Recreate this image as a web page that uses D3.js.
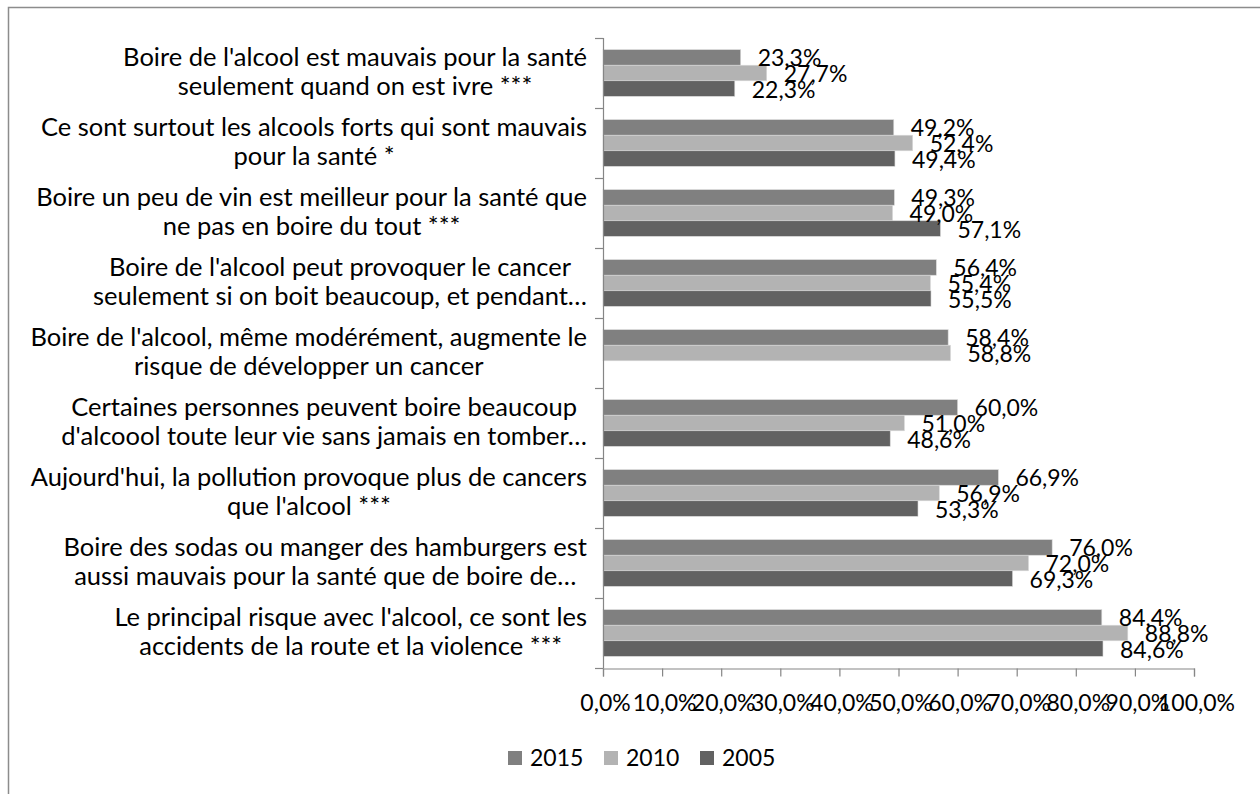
<!DOCTYPE html>
<html>
<head>
<meta charset="utf-8">
<script src="https://cdn.jsdelivr.net/npm/d3@7"></script>
<style>
  html, body { margin: 0; padding: 0; background: #fff; }
  svg { display: block; }
  text { font-family: Lato, "Open Sans", sans-serif; fill: #000; }
</style>
</head>
<body>
<svg id="chart" width="1260" height="794"></svg>
<script>
const categories = [
  "Boire de l'alcool est mauvais pour la santé\nseulement quand on est ivre ***",
  "Ce sont surtout les alcools forts qui sont mauvais\npour la santé *",
  "Boire un peu de vin est meilleur pour la santé que\nne pas en boire du tout ***",
  "Boire de l'alcool peut provoquer le cancer\nseulement si on boit beaucoup, et pendant…",
  "Boire de l'alcool, même modérément, augmente le\nrisque de développer un cancer",
  "Certaines personnes peuvent boire beaucoup\nd'alcoool toute leur vie sans jamais en tomber…",
  "Aujourd'hui, la pollution provoque plus de cancers\nque l'alcool ***",
  "Boire des sodas ou manger des hamburgers est\naussi mauvais pour la santé que de boire de…",
  "Le principal risque avec l'alcool, ce sont les\naccidents de la route et la violence ***"
];
const seriesNames = ["2015", "2010", "2005"];
const values2015 = [0.233, 0.492, 0.493, 0.564, 0.584, 0.600, 0.669, 0.760, 0.844];
const values2010 = [0.277, 0.524, 0.490, 0.554, 0.588, 0.510, 0.569, 0.720, 0.888];
const values2005 = [0.223, 0.494, 0.571, 0.555, null, 0.486, 0.533, 0.693, 0.846];
const xTicks = [0, 0.1, 0.2, 0.3, 0.4, 0.5, 0.6, 0.7, 0.8, 0.9, 1.0];
const seriesColors = ["#808080", "#b3b3b3", "#626262"];

const seriesValues = [values2015, values2010, values2005];

const svg = d3.select("#chart");
const fr = d3.formatLocale({decimal: ",", thousands: " ", grouping: [3], currency: ["", " €"]});
const pct = fr.format(".1%");

// outer chart border (only top/left visible)
svg.append("rect")
  .attr("x", 8.5).attr("y", 7.5).attr("width", 1300).attr("height", 900)
  .attr("fill", "none").attr("stroke", "#8c8c8c").attr("stroke-width", 1.5);

const x = d3.scaleLinear().domain([0, 1]).range([603, 1194]);
const y = d3.scaleBand().domain(categories).range([38, 668]);
const ySub = d3.scaleBand().domain(seriesNames).range([0, y.bandwidth()])
  .paddingInner(0).paddingOuter(0.75);

const FONT = 23;
const CAT_FONT = 25.5;

// bars
const rows = [];
categories.forEach((c, i) => {
  seriesNames.forEach((s, j) => {
    const v = seriesValues[j][i];
    if (v !== null && v !== undefined) rows.push({cat: c, s, j, v});
  });
});

svg.append("g").selectAll("rect").data(rows).join("rect")
  .attr("x", x(0))
  .attr("y", d => y(d.cat) + ySub(d.s))
  .attr("width", d => x(d.v) - x(0))
  .attr("height", ySub.bandwidth())
  .attr("fill", d => seriesColors[d.j])
  .attr("stroke", "#d9d9d9").attr("stroke-width", 0.6);

// data labels
svg.append("g").selectAll("text").data(rows).join("text")
  .attr("x", d => x(d.v) + 17)
  .attr("y", d => y(d.cat) + ySub(d.s) + ySub.bandwidth() / 2 + 9)
  .attr("font-size", FONT)
  .text(d => pct(d.v));

// y axis
const yAxisG = svg.append("g").attr("transform", `translate(${x(0)},0)`);
yAxisG.append("line")
  .attr("x1", 0.5).attr("x2", 0.5).attr("y1", y.range()[0]).attr("y2", y.range()[1])
  .attr("stroke", "#868686").attr("stroke-width", 1.2);
const boundaries = categories.map(c => y(c)).concat([y.range()[1]]);
yAxisG.selectAll("line.tick").data(boundaries).join("line")
  .attr("class", "tick")
  .attr("x1", -8).attr("x2", 0.5)
  .attr("y1", d => d + 0.5).attr("y2", d => d + 0.5)
  .attr("stroke", "#868686").attr("stroke-width", 1.2);

// category labels (centered lines, block right-aligned)
const labelRight = 587;
categories.forEach(c => {
  const lines = c.split("\n");
  const g = svg.append("g");
  const cy = y(c) + y.bandwidth() / 2;
  const texts = lines.map((ln, k) => g.append("text")
    .attr("font-size", CAT_FONT)
    .attr("text-anchor", "middle")
    .attr("y", cy - 7 + k * 29)
    .text(ln));
  const maxW = d3.max(texts, t => t.node().getComputedTextLength());
  texts.forEach(t => t.attr("x", labelRight - maxW / 2));
});

// x axis
const xAxis = d3.axisBottom(x).tickValues(xTicks).tickSize(8).tickPadding(0)
  .tickFormat(fr.format(".1%"));
const xAxisG = svg.append("g").attr("transform", `translate(0,${y.range()[1] + 0.5})`).call(xAxis);
xAxisG.select(".domain").attr("stroke", "#868686").attr("stroke-width", 1.2);
xAxisG.selectAll(".tick line").attr("stroke", "#868686").attr("stroke-width", 1.2);
xAxisG.selectAll(".tick text")
  .attr("font-size", FONT).attr("font-family", "Lato, 'Open Sans', sans-serif")
  .attr("fill", "#000")
  .attr("dy", null).attr("y", 42).attr("dx", 2);

// legend
const legend = svg.append("g");
const legendX = d3.scaleBand().domain(seriesNames).range([508, 796]);
const items = legend.selectAll("g").data(seriesNames).join("g")
  .attr("transform", d => `translate(${legendX(d)},751)`);
items.append("rect").attr("width", 14).attr("height", 14)
  .attr("fill", (d, i) => seriesColors[i]);
items.append("text").attr("x", 22).attr("y", 15).attr("font-size", FONT).text(d => d);
</script>
</body>
</html>
